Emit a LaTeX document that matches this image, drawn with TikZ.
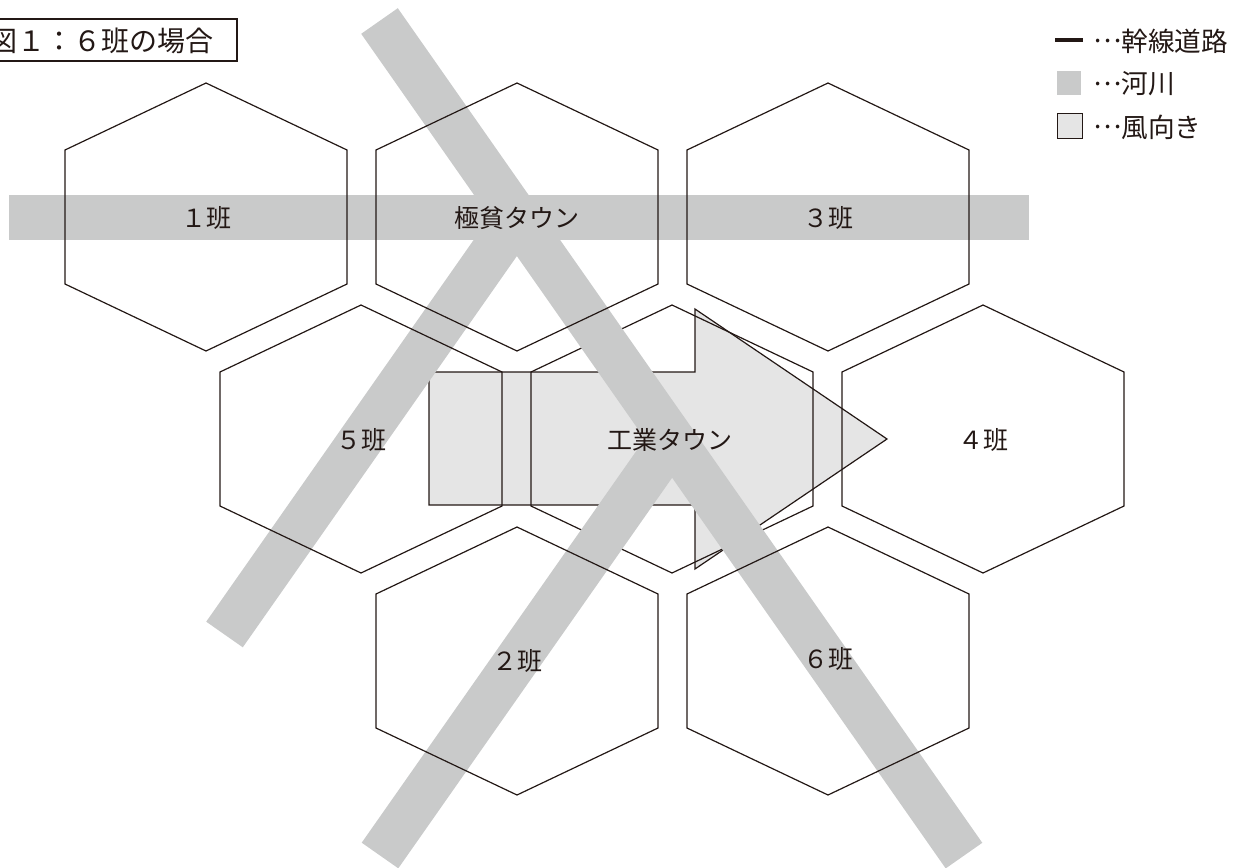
\documentclass[tikz,border=0pt]{standalone}
\usepackage{fontspec}
\setmainfont{Noto Sans CJK JP}
\definecolor{ink}{HTML}{231815}
\definecolor{river}{HTML}{C9CACA}
\definecolor{wind}{HTML}{E5E5E5}
\newcommand\midells{\raisebox{0.33em}{…}}
\begin{document}
\begin{tikzpicture}[x=0.75pt,y=-0.75pt,
  hexline/.style={draw=ink,line width=0.9pt,line join=miter},
  hexa/.pic={\path[hexline] (-141,-67) -- (0,-134) -- (141,-67) -- (141,67) -- (0,134) -- (-141,67) -- cycle;},
  riverband/.style={draw=river,line width=33.5pt,line cap=butt},
  windarrow/.style={fill=wind,draw=ink,line width=0.9pt,line join=miter},
  hexlabel/.style={text=ink,font=\fontsize{18.75pt}{20pt}\selectfont,inner sep=0pt},
  legtext/.style={text=ink,font=\fontsize{20pt}{22pt}\selectfont,inner sep=0pt,anchor=west},
  titletext/.style={text=ink,font=\fontsize{21pt}{23pt}\selectfont,inner sep=0pt,anchor=west}]
\useasboundingbox (0,0) rectangle (1236,868);
\clip (0,0) rectangle (1236,868);
% wind arrow
\draw[windarrow] (429,372) -- (695,372) -- (695,309) -- (887,439) -- (695,569) -- (695,505) -- (429,505) -- cycle;
% industrial town hex (under the rivers)
\pic at (672,439) {hexa};
% rivers
\draw[riverband] (9,217.5) -- (1029,217.5);
\draw[riverband] (379.5,21) -- (964,855.6);
\draw[riverband] (224.5,634.5) -- (517,217);
\draw[riverband] (380,855.5) -- (672,439);
% other hexes
\pic at (206,217) {hexa};
\pic at (517,217) {hexa};
\pic at (828,217) {hexa};
\pic at (361,439) {hexa};
\pic at (983,439) {hexa};
\pic at (517,661) {hexa};
\pic at (828,661) {hexa};
% labels
\node[hexlabel] (h1) at (206,218) {１班};
\node[hexlabel] (hp) at (517,218) {極貧タウン};
\node[hexlabel] (h3) at (828,218) {３班};
\node[hexlabel] (h5) at (361,440) {５班};
\node[hexlabel] (hi) at (670,440) {工業タウン};
\node[hexlabel] (h4) at (983,440) {４班};
\node[hexlabel] (h2) at (517,661) {２班};
\node[hexlabel] (h6) at (828,659) {６班};
% title
\draw[ink,line width=0.9pt] (-5,19) rectangle (237,61);
\node[titletext] (title) at (-11,41) {図１：６班の場合};
% legend
\coordinate (la) at (1055,40);
\coordinate (lb) at (1083,40);
\draw[ink,line width=2.3pt] (la) -- (lb);
\fill[river] (1057,71) rectangle (1081,95);
\draw[fill=wind,draw=ink,line width=0.7pt] (1057,113) rectangle (1082,138);
\node[legtext] (l1) at (1093,41) {\midells 幹線道路};
\node[legtext] (l2) at (1093,84) {\midells 河川};
\node[legtext] (l3) at (1093,127) {\midells 風向き};
\end{tikzpicture}
\end{document}
